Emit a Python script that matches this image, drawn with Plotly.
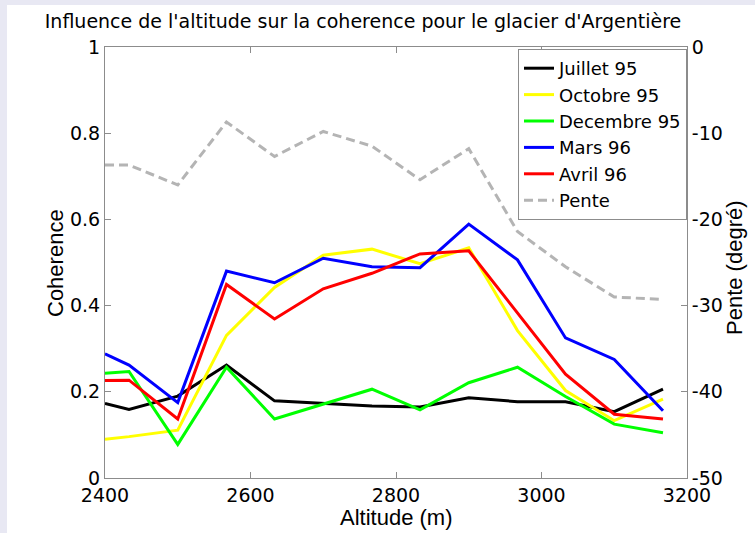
import plotly.graph_objects as go

altitude = [2400, 2433, 2500, 2567, 2633, 2700, 2767, 2833, 2900, 2967, 3033, 3100, 3167]
juillet95 = [0.173, 0.159, 0.190, 0.262, 0.179, 0.173, 0.167, 0.165, 0.186, 0.177, 0.177, 0.154, 0.206]
octobre95 = [0.090, 0.096, 0.111, 0.331, 0.442, 0.517, 0.531, 0.497, 0.534, 0.342, 0.203, 0.133, 0.183]
decembre95 = [0.243, 0.247, 0.078, 0.257, 0.137, 0.172, 0.206, 0.158, 0.221, 0.257, 0.189, 0.125, 0.105]
mars96 = [0.288, 0.262, 0.175, 0.480, 0.453, 0.510, 0.490, 0.488, 0.589, 0.506, 0.325, 0.275, 0.156]
avril96 = [0.226, 0.227, 0.137, 0.449, 0.369, 0.439, 0.475, 0.520, 0.527, 0.382, 0.241, 0.148, 0.137]
pente = [-13.7, -13.7, -16.0, -8.7, -12.7, -9.8, -11.5, -15.4, -11.8, -21.4, -25.5, -29.0, -29.3]

x_ticks = [2400, 2600, 2800, 3000, 3200]
y_ticks = [0, 0.2, 0.4, 0.6, 0.8, 1]
y_ticktext = ["0", "0.2", "0.4", "0.6", "0.8", "1"]
y2_ticks = [-50, -40, -30, -20, -10, 0]
y2_ticktext = ["-50", "-40", "-30", "-20", "-10", "0"]

FONT = "DejaVu Sans"
LABEL_FONT = "Liberation Sans"
AXIS = "#8c8c8c"

# plot area in pixels: x 105..687, y 47..478
L, R, T, B = 105, 687, 47, 478


def px(x):
    return (x - L) / (R - L)


def py(y):
    return (B - y) / (B - T)


series = [
    ("Juillet 95", juillet95, "#000000"),
    ("Octobre 95", octobre95, "#ffff00"),
    ("Decembre 95", decembre95, "#00ff00"),
    ("Mars 96", mars96, "#0000ff"),
    ("Avril 96", avril96, "#ff0000"),
]

fig = go.Figure()
for name, vals, col in series:
    fig.add_trace(go.Scatter(x=altitude, y=vals, mode="lines", name=name,
                             line=dict(color=col, width=3)))
fig.add_trace(go.Scatter(x=altitude, y=pente, mode="lines", name="Pente",
                         yaxis="y2",
                         line=dict(color="#b4b4b4", width=3, dash="9px,5px")))

axis_common = dict(showgrid=False, zeroline=False, showline=True, linecolor=AXIS,
                   linewidth=1, ticks="inside", ticklen=6, tickcolor=AXIS,
                   automargin=False)

label_font = dict(family=LABEL_FONT, size=22, color="black")
fig.add_annotation(text="Altitude (m)", xref="paper", yref="paper", x=px(396), y=py(517),
                   xanchor="center", yanchor="middle", showarrow=False, font=label_font)
fig.add_annotation(text="Coherence", xref="paper", yref="paper", x=px(55), y=py(263),
                   xanchor="center", yanchor="middle", textangle=-90, showarrow=False,
                   font=label_font)
fig.add_annotation(text="Pente (degré)", xref="paper", yref="paper", x=px(734), y=py(268),
                   xanchor="center", yanchor="middle", textangle=-90, showarrow=False,
                   font=label_font)

fig.update_layout(
    width=755, height=533,
    margin=dict(l=L, r=755 - R, t=T, b=533 - B),
    paper_bgcolor="#e8e8f3", plot_bgcolor="white",
    font=dict(family=FONT, size=19, color="black"),
    title=dict(text="Influence de l'altitude sur la coherence pour le glacier d'Argentière",
               x=363 / 755, xref="container", xanchor="center",
               y=1 - 21 / 533, yref="container", yanchor="middle",
               font=dict(family=FONT, size=19, color="black")),
    xaxis=dict(range=[2400, 3200], tickvals=x_ticks, mirror="ticks", **axis_common),
    yaxis=dict(range=[0, 1], tickvals=y_ticks, ticktext=y_ticktext, **axis_common),
    yaxis2=dict(range=[-50, 0], tickvals=y2_ticks, ticktext=y2_ticktext,
                overlaying="y", side="right", **axis_common),
    legend=dict(x=px(518), y=py(49), xanchor="left", yanchor="top",
                bgcolor="white", bordercolor=AXIS, borderwidth=1,
                font=dict(family=FONT, size=18)),
    shapes=[dict(type="rect", xref="paper", yref="paper",
                 x0=px(7), x1=px(760), y0=py(540), y1=py(5),
                 fillcolor="white", line=dict(width=0), layer="below")],
)

fig.write_html("out.html", config={"displayModeBar": False},
               post_script="document.body.style.margin='0';")
